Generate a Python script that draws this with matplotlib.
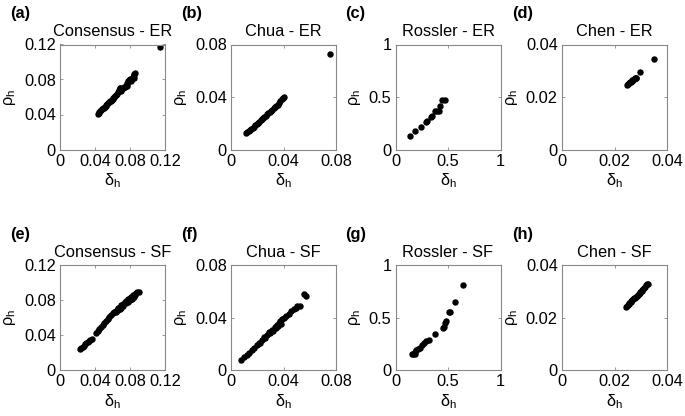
import matplotlib
matplotlib.use("Agg")
import matplotlib.pyplot as plt

plt.rcParams['font.family'] = ['Liberation Sans', 'DejaVu Sans']
plt.rcParams['mathtext.fontset'] = 'custom'
plt.rcParams['mathtext.rm'] = 'Liberation Sans'
plt.rcParams['mathtext.it'] = 'Liberation Sans:italic'

# (a) Consensus - ER
cons_er_x = [0.043, 0.044, 0.045, 0.046, 0.047, 0.048, 0.049, 0.050, 0.051, 0.052, 0.053, 0.054,
             0.055, 0.056, 0.057, 0.058, 0.059, 0.060, 0.061, 0.062, 0.063, 0.064, 0.065, 0.066,
             0.067, 0.068, 0.069, 0.070, 0.071, 0.072, 0.073, 0.074, 0.075, 0.076, 0.077, 0.078,
             0.079, 0.080, 0.081, 0.082, 0.083, 0.084, 0.085, 0.086, 0.070, 0.076, 0.081, 0.084,
             0.114]
cons_er_y = [0.041, 0.042, 0.043, 0.044, 0.045, 0.046, 0.047, 0.048, 0.049, 0.050, 0.051, 0.052,
             0.053, 0.054, 0.055, 0.056, 0.057, 0.058, 0.059, 0.060, 0.061, 0.062, 0.064, 0.066,
             0.068, 0.070, 0.070, 0.069, 0.069, 0.070, 0.071, 0.072, 0.073, 0.075, 0.076, 0.078,
             0.079, 0.080, 0.081, 0.081, 0.083, 0.085, 0.086, 0.087, 0.067, 0.073, 0.078, 0.082,
             0.117]
# (b) Chua - ER
chua_er_x = [0.0117, 0.0125, 0.0135, 0.0145, 0.0155, 0.0165, 0.0175, 0.0185, 0.0195, 0.0205,
             0.0215, 0.0225, 0.0235, 0.0245, 0.0255, 0.0265, 0.0275, 0.0285, 0.0295, 0.0305,
             0.0315, 0.0325, 0.0335, 0.0345, 0.0355, 0.0365, 0.0375, 0.0385, 0.0395, 0.0405,
             0.0755]
chua_er_y = [0.0126, 0.0130, 0.0139, 0.0148, 0.0157, 0.0166, 0.0175, 0.0184, 0.0193, 0.0202,
             0.0211, 0.0221, 0.0230, 0.0240, 0.0249, 0.0258, 0.0268, 0.0277, 0.0286, 0.0295,
             0.0304, 0.0318, 0.0327, 0.0332, 0.0341, 0.0352, 0.0370, 0.0385, 0.0392, 0.0397,
             0.073]
# (c) Rossler - ER
ross_er_x = [0.137, 0.188, 0.245, 0.293, 0.30, 0.338, 0.347, 0.373, 0.395, 0.414, 0.427, 0.443, 0.475]
ross_er_y = [0.125, 0.173, 0.218, 0.266, 0.27, 0.311, 0.317, 0.362, 0.362, 0.365, 0.413, 0.471, 0.471]
# (d) Chen - ER
chen_er_x = [0.0247, 0.0250, 0.0253, 0.0256, 0.0259, 0.0262, 0.0265, 0.0268, 0.0271, 0.0274,
             0.0277, 0.0280, 0.0282, 0.0298, 0.0351]
chen_er_y = [0.0245, 0.0248, 0.0251, 0.0254, 0.0256, 0.0259, 0.0261, 0.0264, 0.0266, 0.0268,
             0.0271, 0.0273, 0.0274, 0.0296, 0.0345]
# (e) Consensus - SF
cons_sf_x = [0.0231, 0.0245, 0.026, 0.0274, 0.0288, 0.0301, 0.0315, 0.0328, 0.0342, 0.036,
             0.0415, 0.0432, 0.045, 0.0469, 0.0488, 0.0507, 0.0527, 0.0546, 0.0565, 0.0582,
             0.060, 0.0618, 0.0635, 0.0648, 0.066, 0.068, 0.070, 0.0719, 0.0738, 0.0757,
             0.0777, 0.0796, 0.0815, 0.0834, 0.0854, 0.087, 0.0885, 0.090,
             0.064, 0.066, 0.068, 0.070, 0.072, 0.0758, 0.078, 0.080, 0.082, 0.084, 0.086]
cons_sf_y = [0.0238, 0.0252, 0.0265, 0.0279, 0.0292, 0.0304, 0.0315, 0.0327, 0.0338, 0.035,
             0.0423, 0.0447, 0.047, 0.049, 0.051, 0.0534, 0.0558, 0.0583, 0.0608, 0.0627,
             0.0646, 0.0662, 0.0677, 0.069, 0.0704, 0.0723, 0.0742, 0.0758, 0.0773, 0.079,
             0.0808, 0.0823, 0.0838, 0.0853, 0.0869, 0.0883, 0.0896, 0.0888,
             0.0662, 0.0685, 0.0698, 0.0712, 0.0735, 0.0762, 0.0776, 0.0795, 0.0815, 0.0835, 0.0852]
# (f) Chua - SF
chua_sf_x = [0.0077, 0.0098, 0.012, 0.014, 0.0159, 0.0178, 0.0197, 0.0216, 0.0236, 0.0255,
             0.0274, 0.0293, 0.0313, 0.0332, 0.0351, 0.0364, 0.0377, 0.039, 0.0403, 0.0422,
             0.0441, 0.046, 0.048, 0.0492, 0.0505, 0.0523, 0.0559, 0.0569,
             0.022, 0.026, 0.030, 0.032, 0.034, 0.036, 0.038]
chua_sf_y = [0.0077, 0.0096, 0.0116, 0.0133, 0.015, 0.0169, 0.0188, 0.0209, 0.023, 0.0249,
             0.0268, 0.0287, 0.0307, 0.0326, 0.0346, 0.0361, 0.0377, 0.0387, 0.0397, 0.0412,
             0.0428, 0.0446, 0.0464, 0.0475, 0.0485, 0.049, 0.0578, 0.0563,
             0.0202, 0.0242, 0.0282, 0.0300, 0.0322, 0.0338, 0.0352]
# (g) Rossler - SF
ross_sf_x = [0.154, 0.167, 0.183, 0.183, 0.199, 0.212, 0.231, 0.253, 0.272, 0.295, 0.317, 0.372,
             0.455, 0.458, 0.471, 0.481, 0.506, 0.522, 0.567, 0.641]
ross_sf_y = [0.154, 0.157, 0.151, 0.170, 0.186, 0.199, 0.212, 0.234, 0.253, 0.272, 0.282, 0.346,
             0.397, 0.413, 0.449, 0.468, 0.554, 0.554, 0.644, 0.814]
# (h) Chen - SF
chen_sf_x = [0.0243, 0.0247, 0.0250, 0.0254, 0.0257, 0.0261, 0.0264, 0.0268, 0.0271, 0.0275,
             0.0278, 0.0282, 0.0285, 0.0289, 0.0292, 0.0296, 0.0299, 0.0303, 0.0306, 0.0310,
             0.0313, 0.0317, 0.0320, 0.0324, 0.0327]
chen_sf_y = [0.0241, 0.0245, 0.0248, 0.0252, 0.0255, 0.0259, 0.0262, 0.0266, 0.0269, 0.0273,
             0.0276, 0.0280, 0.0283, 0.0287, 0.0290, 0.0294, 0.0298, 0.0302, 0.0306, 0.0310,
             0.0314, 0.0318, 0.0322, 0.0326, 0.0329]

titles = ['Consensus - ER', 'Chua - ER', 'Rossler - ER', 'Chen - ER',
          'Consensus - SF', 'Chua - SF', 'Rossler - SF', 'Chen - SF']
letters = ['(a)', '(b)', '(c)', '(d)', '(e)', '(f)', '(g)', '(h)']
xs = [cons_er_x, chua_er_x, ross_er_x, chen_er_x, cons_sf_x, chua_sf_x, ross_sf_x, chen_sf_x]
ys = [cons_er_y, chua_er_y, ross_er_y, chen_er_y, cons_sf_y, chua_sf_y, ross_sf_y, chen_sf_y]
limits = [0.12, 0.08, 1, 0.04]
ticks = [[0, 0.04, 0.08, 0.12], [0, 0.04, 0.08], [0, 0.5, 1], [0, 0.02, 0.04]]
ticklabels = [['0', '0.04', '0.08', '0.12'], ['0', '0.04', '0.08'], ['0', '0.5', '1'],
              ['0', '0.02', '0.04']]

W, H = 685, 416
fig = plt.figure(figsize=(W / 100, H / 100), dpi=100)
lefts = [60, 231, 395.5, 562]
tops = [44.5, 265]
size = 105
fs = 11.8

for i in range(8):
    r, c = divmod(i, 4)
    ax = fig.add_axes([lefts[c] / W, (H - tops[r] - size) / H, size / W, size / H])
    ax.plot(xs[i], ys[i], 'o', color='black', ms=3.6, mec='black')
    lim = limits[c]
    ax.set_xlim(0, lim)
    ax.set_ylim(0, lim)
    ax.set_xticks(ticks[c])
    ax.set_yticks(ticks[c])
    ax.set_xticklabels(ticklabels[c], fontsize=fs)
    ax.set_yticklabels(ticklabels[c], fontsize=fs)
    ax.tick_params(direction='in', length=2.5, width=0.6, color='#888888',
                   top=True, right=True, pad=3)
    for s in ax.spines.values():
        s.set_color('#888888')
        s.set_linewidth(0.8)
    ax.set_title(titles[i], fontsize=fs, pad=6)
    ax.set_xlabel('δ$_\\mathrm{h}$', fontsize=fs, labelpad=2)
    ax.set_ylabel('ρ$_\\mathrm{h}$', fontsize=fs, labelpad=4)
    fig.text((lefts[c] - 50) / W, 1 - (tops[r] - 31) / H, letters[i], fontsize=fs,
             fontweight='bold', va='center', ha='left')

fig.savefig('out.png', dpi=100)
